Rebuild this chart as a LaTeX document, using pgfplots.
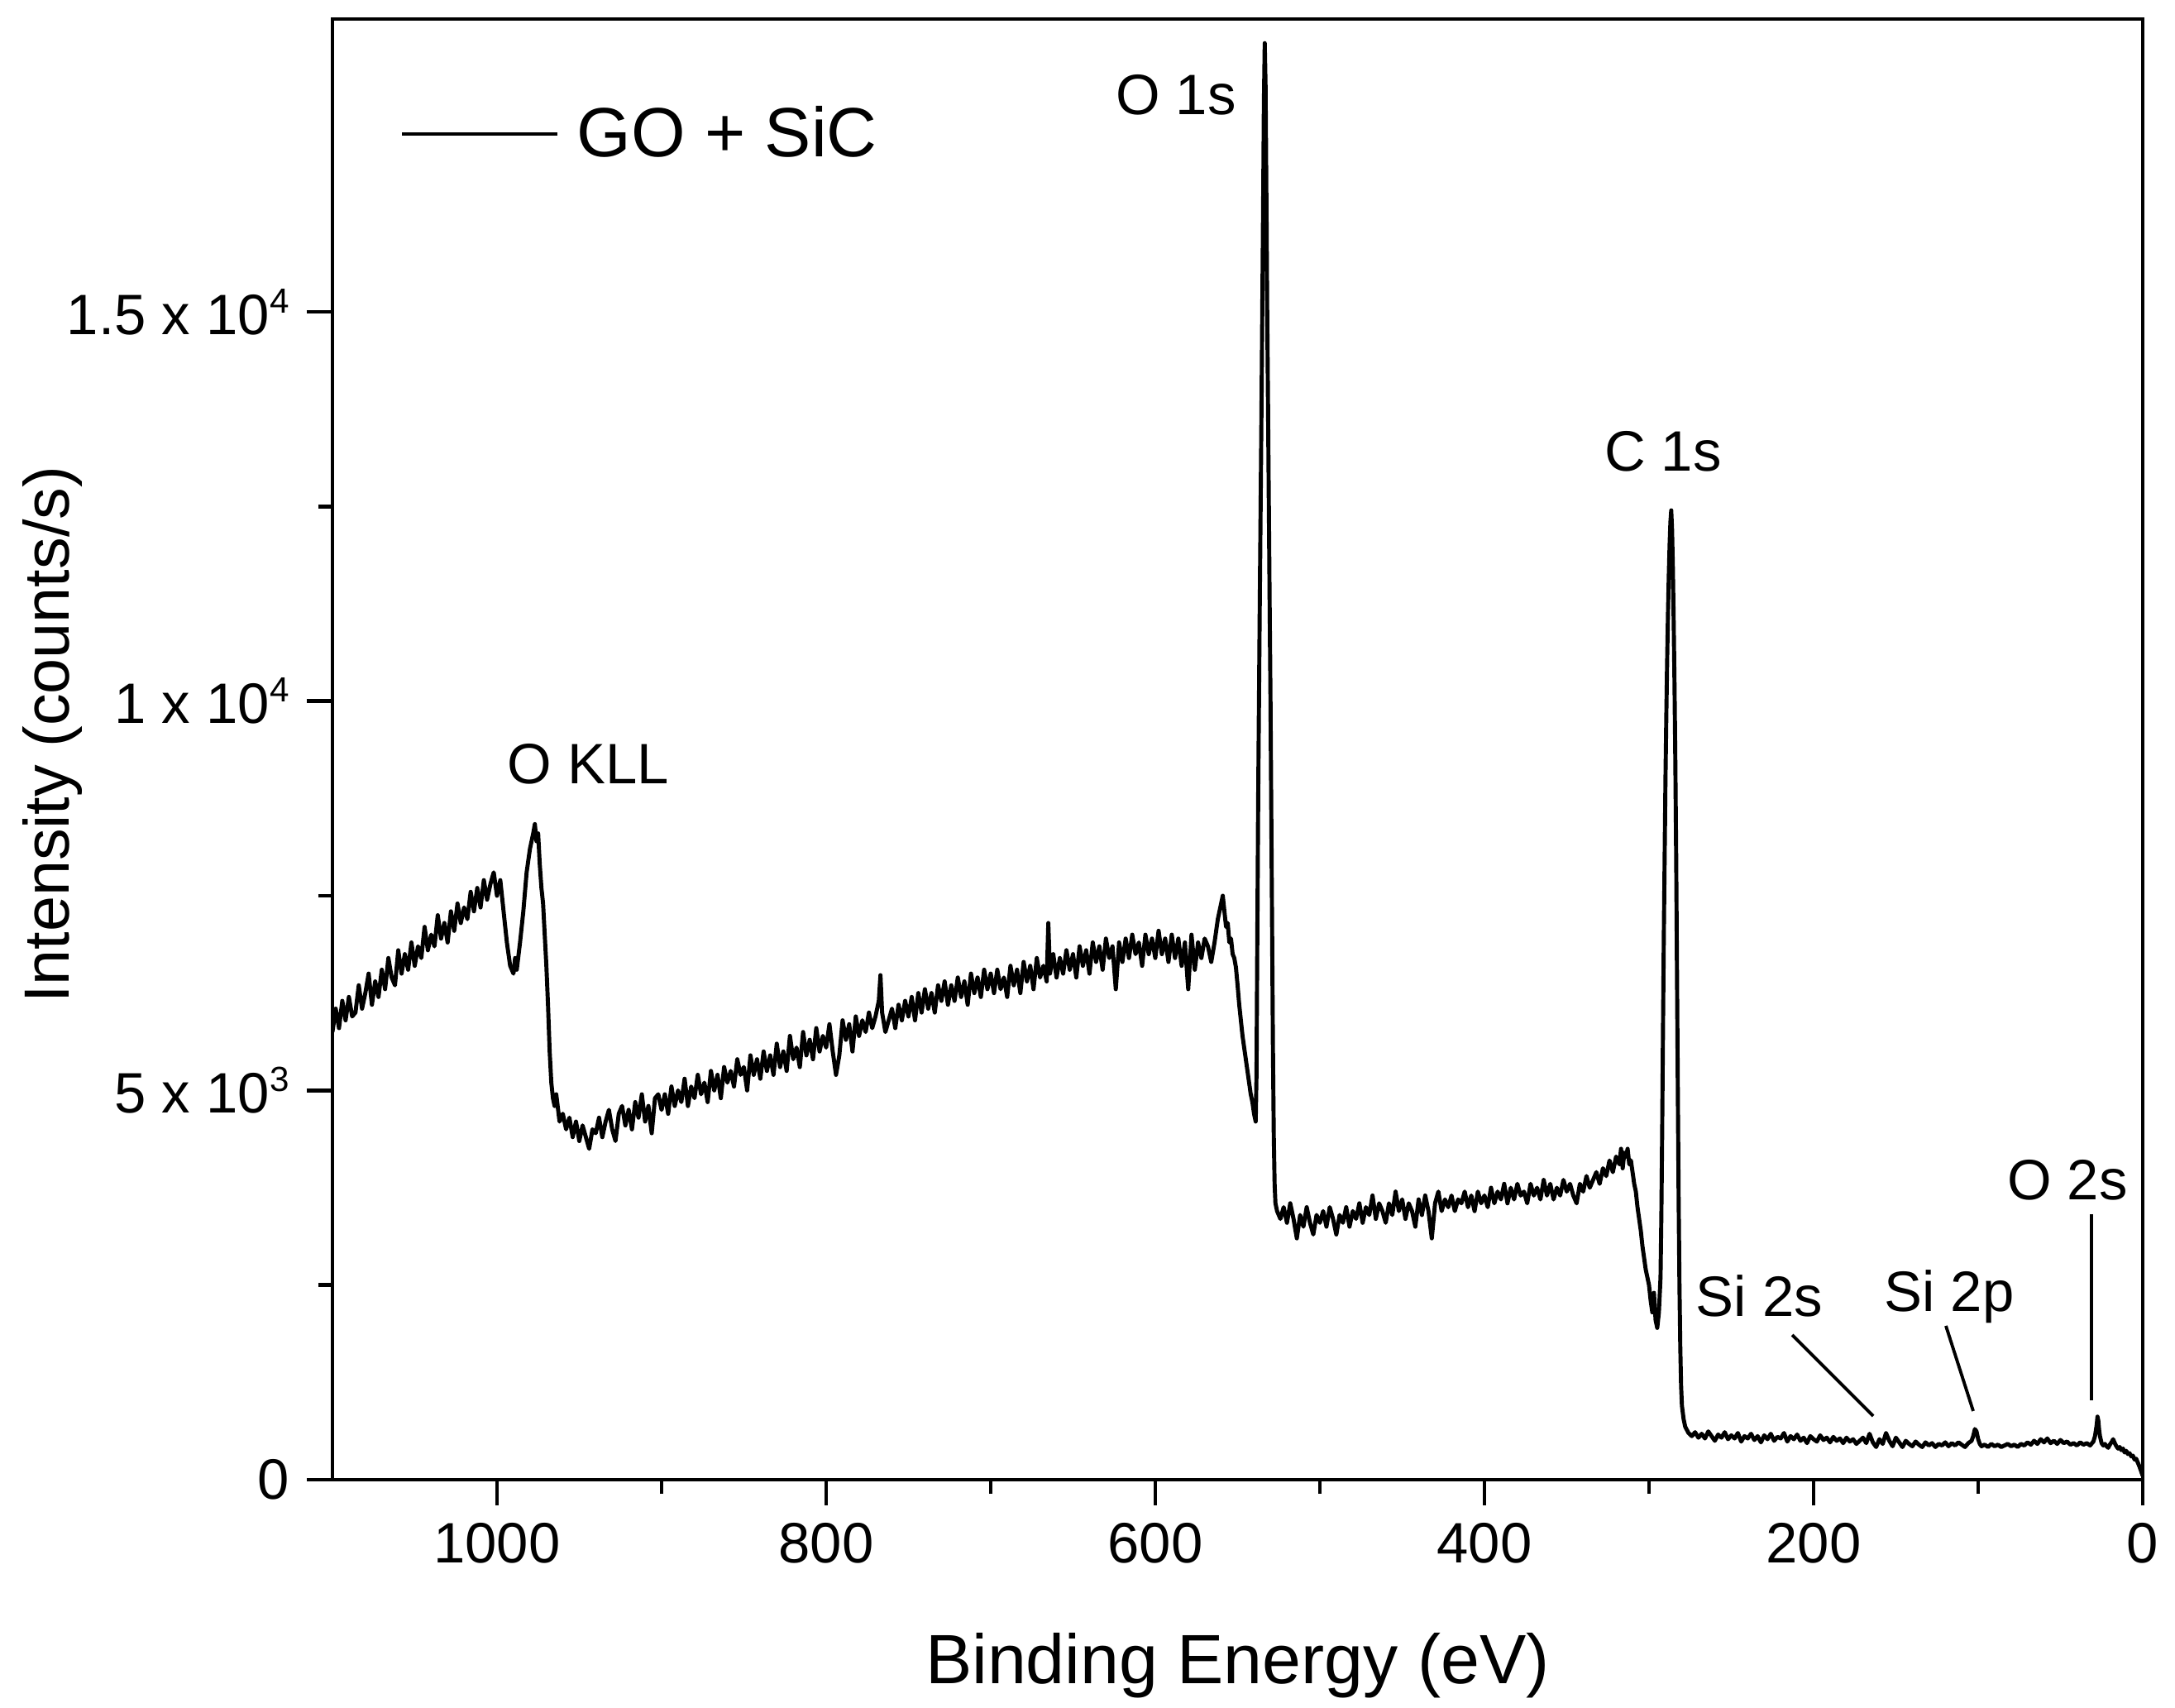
\documentclass[border=0pt]{standalone}
\usepackage{fontspec}
\setmainfont{Liberation Sans}
\usepackage{pgfplots}
\pgfplotsset{compat=1.18}
\newcommand\sups[1]{\raisebox{0.38em}{\fontsize{12}{13}\selectfont #1}}
\newcommand\tickfont{\fontsize{19.6}{23.5}\selectfont}
\begin{document}
\begin{tikzpicture}
\begin{axis}[
  width=21.89cm, height=17.66cm, scale only axis,
  at={(0,0)}, anchor=south west,
  xmin=0, xmax=1100, x dir=reverse,
  ymin=0, ymax=18760,
  axis line style={line width=1.3pt},
  tick align=outside, tick pos=left,
  major tick length=0.31cm, minor tick length=0.17cm,
  tick style={line width=1.3pt, black},
  xtick={0,200,400,600,800,1000},
  xticklabels={0,200,400,600,800,1000},
  minor x tick num=1,
  ytick={0,5000,10000,15000},
  yticklabels={0,{5 x 10\sups{3}},{1 x 10\sups{4}},{1.5 x 10\sups{4}}},
  minor y tick num=1,
  scaled ticks=false,
  every tick label/.append style={font=\tickfont},
  xticklabel style={yshift=-0.09cm},
  yticklabel style={xshift=-0.09cm},
  every axis x label/.style={at={(axis description cs:0.5,-0.1393)}, anchor=base, font=\fontsize{24}{28}\selectfont},
  every axis y label/.style={at={(axis description cs:-0.1457,0.51)}, rotate=90, anchor=base, font=\fontsize{22}{26}\selectfont},
  xlabel={Binding Energy (eV)},
  ylabel={Intensity (counts/s)},
  legend style={at={(axis description cs:0.037,0.9213)}, anchor=west, draw=none, fill=none, inner sep=0pt, font=\fontsize{24}{28}\selectfont},
  legend image code/.code={\draw[#1] (0cm,0cm) -- (1.88cm,0cm); \path (2.02cm,0cm);},
  clip=true,
]
\addplot[black, line width=1.4pt, line join=round] coordinates {
(1100,5750)(1098,6050)(1096,5800)(1094,6150)(1092,5900)(1090,6200)(1088,5950)(1086,6000)(1084,6350)(1082,6050)
(1080,6250)(1078,6500)(1076,6100)(1074,6400)(1072,6200)(1070,6550)(1068,6300)(1066,6700)(1064,6450)(1062,6350)
(1060,6800)(1058,6500)(1056,6750)(1054,6550)(1052,6900)(1050,6600)(1048,6850)(1046,6700)(1044,7100)(1042,6800)
(1040,7000)(1038,6850)(1036,7250)(1034,6950)(1032,7150)(1030,6900)(1028,7300)(1026,7050)(1024,7400)(1022,7150)
(1020,7350)(1018,7200)(1016,7550)(1014,7300)(1012,7600)(1010,7350)(1008,7700)(1006,7450)(1004,7650)(1002,7800)
(1000,7500)(998,7700)(996,7300)(994,6900)(992,6600)(990,6500)(989,6700)(988,6550)(986,6900)(984,7300)
(982,7800)(980,8100)(978,8300)(977,8420)(976,8200)(975,8300)(974,7900)(973,7600)(972,7400)(971,7000)
(970,6600)(969,6100)(968,5500)(967,5100)(966,4900)(965,4800)(964,4950)(962,4600)(960,4700)(958,4500)
(956,4650)(954,4400)(952,4600)(950,4350)(948,4550)(946,4400)(944,4250)(942,4500)(940,4450)
(938,4650)(936,4400)(934,4600)(932,4750)(930,4500)(928,4350)(926,4700)(924,4800)(922,4550)(920,4750)
(918,4500)(916,4850)(914,4650)(912,4950)(910,4600)(908,4800)(906,4450)(904,4900)(902,4950)(900,4750)
(898,4950)(896,4700)(894,5050)(892,4800)(890,5000)(888,4850)(886,5150)(884,4800)(882,5050)(880,4900)
(878,5200)(876,4950)(874,5100)(872,4850)(870,5250)(868,5000)(866,5200)(864,4900)(862,5300)(860,5100)
(858,5250)(856,5050)(854,5400)(852,5200)(850,5300)(848,5000)(846,5450)(844,5200)(842,5400)(840,5150)
(838,5500)(836,5250)(834,5450)(832,5200)(830,5600)(828,5300)(826,5500)(824,5250)(822,5700)(820,5400)
(818,5550)(816,5300)(814,5750)(812,5450)(810,5650)(808,5400)(806,5800)(804,5500)(802,5700)(800,5550)
(798,5850)(796,5500)(794,5200)(792,5450)(790,5900)(788,5650)(786,5850)(784,5500)(782,5950)(780,5700)
(778,5900)(776,5750)(774,6000)(772,5800)(770,5950)(768,6150)(767,6480)(766,6000)(764,5750)(762,5900)
(760,6050)(758,5800)(756,6100)(754,5900)(752,6150)(750,5950)(748,6200)(746,5900)(744,6250)(742,6000)
(740,6300)(738,6050)(736,6250)(734,6000)(732,6350)(730,6150)(728,6400)(726,6100)(724,6350)(722,6150)
(720,6450)(718,6200)(716,6400)(714,6100)(712,6500)(710,6250)(708,6450)(706,6200)(704,6550)(702,6300)
(700,6500)(698,6250)(696,6550)(694,6300)(692,6450)(690,6200)(688,6600)(686,6350)(684,6550)(682,6250)
(680,6650)(678,6400)(676,6600)(674,6300)(672,6700)(670,6450)(668,6600)(666,6400)(665,7150)(664,6500)
(662,6750)(660,6450)(658,6700)(656,6500)(654,6800)(652,6550)(650,6750)(648,6450)(646,6850)(644,6600)
(642,6800)(640,6500)(638,6900)(636,6650)(634,6850)(632,6550)(630,6950)(628,6700)(626,6850)(624,6300)
(622,6900)(620,6650)(618,6950)(616,6700)(614,7000)(612,6750)(610,6900)(608,6600)(606,7000)(604,6750)
(602,6950)(600,6700)(598,7050)(596,6750)(594,6950)(592,6650)(590,7000)(588,6700)(586,6950)(584,6600)
(582,6900)(580,6300)(578,7000)(576,6550)(574,6900)(572,6700)(570,6950)(568,6850)(566,6650)(564,6900)
(562,7200)(561,7300)(560,7400)(559,7500)(558,7300)(557,7100)(556,7150)(555,6900)(554,6950)(553,6750)
(552,6700)(551,6580)(550,6350)(549,6100)(548,5900)(547,5700)(546,5550)(545,5400)(544,5250)(543,5100)
(542,4950)(541,4850)(540,4700)(539,4600)(538.5,5200)(538,7000)(537.5,8700)(537,10000)(536.5,11300)
(536,12500)(535.5,13700)(535,15000)(534.5,16300)(534,17700)(533.5,18450)(533,17900)(532.5,16500)
(532,15000)(531.5,13800)(531,12500)(530.5,11200)(530,10000)(529.5,8500)(529,7000)(528.5,5500)
(528,4400)(527.5,3800)(527,3550)(526,3450)(525,3400)
(524,3350)(522,3500)(520,3300)(518,3550)(516,3350)(514,3100)(512,3400)(510,3250)(508,3500)(506,3300)
(504,3150)(502,3400)(500,3300)(498,3450)(496,3250)(494,3500)(492,3350)(490,3150)(488,3400)(486,3300)
(484,3500)(482,3250)(480,3450)(478,3350)(476,3550)(474,3300)(472,3500)(470,3400)(468,3650)(466,3350)
(464,3550)(462,3450)(460,3300)(458,3550)(456,3400)(454,3700)(452,3450)(450,3600)(448,3350)(446,3550)
(444,3450)(442,3250)(440,3600)(438,3400)(436,3650)(434,3450)(432,3100)(430,3550)(428,3700)(426,3450)
(424,3600)(422,3500)(420,3650)(418,3450)(416,3600)(414,3550)(412,3700)(410,3500)(408,3650)(406,3450)
(404,3700)(402,3550)(400,3650)(398,3500)(396,3750)(394,3550)(392,3700)(390,3600)(388,3800)(386,3550)
(384,3750)(382,3600)(380,3800)(378,3650)(376,3700)(374,3550)(372,3800)(370,3650)(368,3750)(366,3600)
(364,3850)(362,3650)(360,3800)(358,3600)(356,3750)(354,3650)(352,3850)(350,3700)(348,3800)(346,3650)
(344,3550)(342,3800)(340,3700)(338,3900)(336,3750)(334,3850)(332,3950)(330,3800)(328,4000)(326,3900)
(324,4100)(322,3950)(320,4150)(318,4050)(317,4250)(316,4000)(315,4200)(314,4150)(313,4250)(312,4050)
(311,4100)(310,3950)(309,3800)(308,3700)(307,3500)(306,3350)(305,3200)(304,3000)(303,2850)(302,2700)
(301,2600)(300,2500)(299,2300)(298,2150)(297,2400)(296,2050)(295,1950)(294,2150)(293,2600)(292.5,3400)
(292,4500)(291.5,5800)(291,7000)(290.5,8000)(290,9000)(289.5,9800)(289,10500)(288.5,11100)(288,11600)
(287.5,12000)(287,12300)(286.5,12450)(286,12200)(285.5,11700)(285,11000)(284.5,10200)(284,9200)
(283.5,8000)(283,6500)(282.5,5000)(282,3600)(281.5,2500)(281,1700)(280.5,1200)(280,950)(279,780)
(278,680)(277,640)(276,600)
(274,560)(272,610)(270,540)(268,590)(266,530)(264,620)(262,560)(260,500)(258,580)(256,540)
(254,610)(252,520)(250,570)(248,530)(246,600)(244,490)(242,560)(240,530)(238,590)(236,510)
(234,560)(232,480)(230,570)(228,520)(226,590)(224,500)(222,550)(220,530)(218,600)(216,490)
(214,560)(212,520)(210,580)(208,500)(206,540)(204,470)(202,560)(200,520)(198,490)(196,570)
(194,510)(192,540)(190,480)(188,550)(186,500)(184,530)(182,470)(180,540)(178,490)(176,520)
(174,460)(172,500)(170,540)(168,470)(166,590)(164,480)(162,420)(160,520)(158,460)(156,600)
(154,500)(152,430)(150,540)(148,480)(146,420)(144,500)(142,460)(140,430)(138,490)(136,450)
(134,420)(132,480)(130,440)(128,470)(126,420)(124,460)(122,440)(120,480)(118,430)(116,470)
(114,440)(112,480)(110,450)(108,420)(106,470)(104,500)(103,560)(102,650)(101,620)(100,520)
(99,460)(98,430)(96,450)(94,420)(92,460)(90,430)(88,450)(86,420)(84,440)(82,460)
(80,430)(78,450)(76,420)(74,460)(72,440)(70,480)(68,450)(66,500)(64,460)(62,520)
(60,480)(58,530)(56,470)(54,500)(52,460)(50,510)(48,470)(46,490)(44,450)(42,470)
(40,440)(38,480)(36,450)(34,470)(32,440)(30,490)(29,560)(28,700)(27.5,810)(27,760)
(26.5,640)(26,560)(25,470)(24,440)(23,460)(22,430)(21,410)(20,450)(19,480)(18,520)
(17,470)(16,430)(15,400)(14,420)(13,380)(12,400)(11,350)(10,370)(9,330)(8,340)
(7,300)(6,310)(5,260)(4,270)(3,220)(2,170)(1,110)(0,50)
};
\addlegendentry{GO + SiC}
\draw[line width=1.1pt] (axis cs:213,1859) -- (axis cs:163.8,818);
\draw[line width=1.1pt] (axis cs:119.6,1976) -- (axis cs:103,882);
\draw[line width=1.1pt] (axis cs:31,3410) -- (axis cs:31,1020);
\node[anchor=base, font=\tickfont, inner sep=0pt] at (axis cs:944.5,8940) {O KLL};
\node[anchor=base, font=\tickfont, inner sep=0pt] at (axis cs:587.4,17538) {O 1s};
\node[anchor=base, font=\tickfont, inner sep=0pt] at (axis cs:291.5,12950) {C 1s};
\node[anchor=base, font=\tickfont, inner sep=0pt] at (axis cs:233,2093) {Si 2s};
\node[anchor=base, font=\tickfont, inner sep=0pt] at (axis cs:117.6,2167) {Si 2p};
\node[anchor=base, font=\tickfont, inner sep=0pt] at (axis cs:45.7,3600) {O 2s};
\end{axis}
\pgfresetboundingbox
\path[use as bounding box] (-4.02cm,-2.75cm) rectangle (22.28cm,17.89cm);
\end{tikzpicture}
\end{document}
